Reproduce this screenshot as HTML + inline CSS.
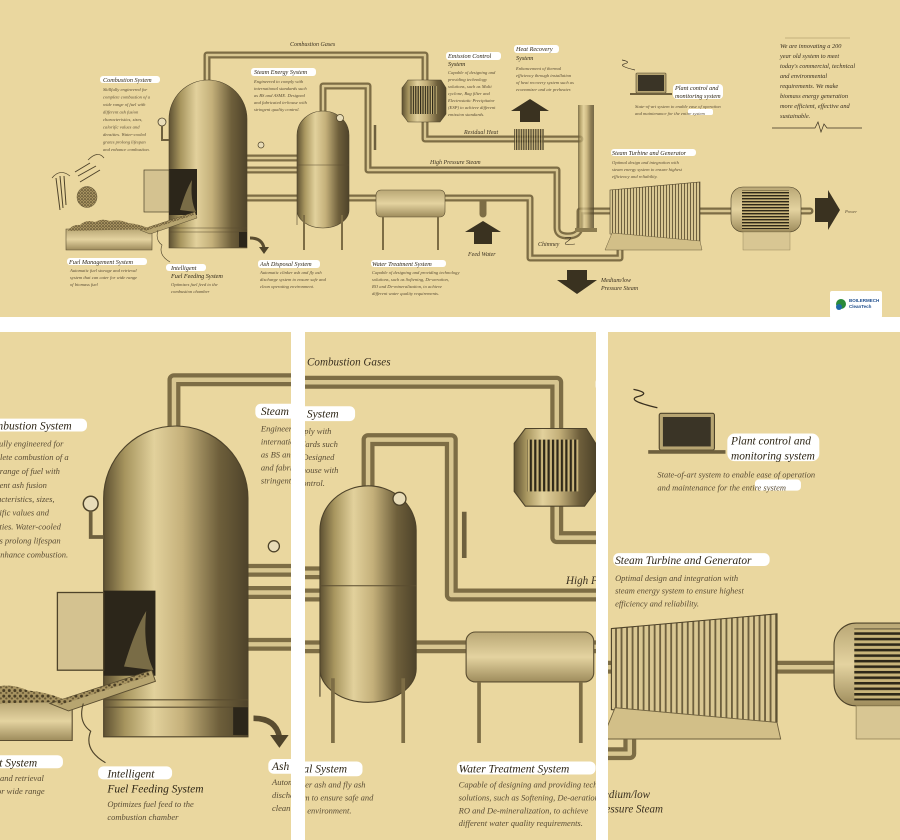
<!DOCTYPE html>
<html><head><meta charset="utf-8"><style>
html,body{margin:0;padding:0;background:#fff;}
svg{display:block;}
text{font-family:"Liberation Serif",serif;font-style:italic;fill:#3a3020;}
.b{font-size:4.6px;fill:#5a4d35;}
.t{font-size:6.2px;fill:#2e2616;}
.l{font-size:6px;fill:#3a3020;}
</style></head><body>
<svg width="900" height="840" viewBox="0 0 900 840" xmlns="http://www.w3.org/2000/svg" xmlns:xlink="http://www.w3.org/1999/xlink">
<defs>
<linearGradient id="mh" x1="0" x2="1" y1="0" y2="0">
<stop offset="0" stop-color="#5e5132"/><stop offset=".15" stop-color="#a8965f"/><stop offset=".35" stop-color="#e2d19c"/><stop offset=".55" stop-color="#c4b07a"/><stop offset=".8" stop-color="#6e5f3b"/><stop offset="1" stop-color="#4e432a"/>
</linearGradient>
<linearGradient id="tb" x1="0" x2="0" y1="0" y2="1">
<stop offset="0" stop-color="#b9a775"/><stop offset=".5" stop-color="#e4d3a0"/><stop offset="1" stop-color="#9e8c5c"/>
</linearGradient>
<pattern id="rib" width="3" height="10" patternUnits="userSpaceOnUse"><rect width="3" height="10" fill="#d9c792"/><rect width="1" height="10" fill="#6e603e"/></pattern>
<pattern id="grl" width="10" height="3" patternUnits="userSpaceOnUse"><rect width="10" height="3" fill="#c9b57a"/><rect width="10" height="1.4" fill="#2e2818"/></pattern>
<pattern id="vgr" width="2.4" height="10" patternUnits="userSpaceOnUse"><rect width="2.4" height="10" fill="#c9b57a"/><rect width="1.2" height="10" fill="#2e2818"/></pattern>
<pattern id="dots" width="3" height="3" patternUnits="userSpaceOnUse"><rect width="3" height="3" fill="#a89461"/><circle cx="1" cy="1" r=".8" fill="#4a3e24"/><circle cx="2.4" cy="2.3" r=".6" fill="#6a5a36"/></pattern>
<clipPath id="c1"><rect x="0" y="332" width="291" height="508"/></clipPath>
<clipPath id="c2"><rect x="305" y="332" width="291" height="508"/></clipPath>
<clipPath id="c3"><rect x="608" y="332" width="292" height="508"/></clipPath>
<g id="d">
<rect x="0" y="0" width="900" height="317" fill="#ead79f"/>
<g fill="none" stroke-linecap="round" stroke-linejoin="round">
<g stroke="#7d6d45" stroke-width="7">
<path d="M207 80 V55 H425 V80"/>
<path d="M425 120 V139 H580"/>
<path d="M323 112 V86 H368 V170 H557 V228 Q557 236 568 236 Q580 236 580 226 V211 H610"/>
<path d="M247 158 H297 M247 170 H297"/>
<path d="M247 198 H376 M445 198 H530 V258 H620 V240"/>
<path d="M700 211 H733 M800 211 H810"/>
<path d="M483 198 V214"/>
</g>
<g stroke="#d8c690" stroke-width="2.4">
<path d="M207 80 V55 H425 V80"/>
<path d="M425 120 V139 H580"/>
<path d="M323 112 V86 H368 V170 H557 V228 Q557 236 568 236 Q580 236 580 226 V211 H610"/>
<path d="M247 158 H297 M247 170 H297"/>
<path d="M247 198 H376 M445 198 H530 V258 H620 V240"/>
<path d="M700 211 H733 M800 211 H810"/>
</g>
</g>
<rect x="578" y="105" width="16" height="127" fill="url(#mh)" opacity=".75"/>
<rect x="575" y="228" width="22" height="4" fill="#8c7c50"/>
<path d="M169 248 V119 A39 39 0 0 1 247 119 V248 Z" fill="url(#mh)" stroke="#4e432a" stroke-width=".6"/>
<path d="M169 228 H247 M169 232 H247" stroke="#5a4d30" stroke-width=".6"/>
<rect x="169" y="169" width="28" height="46" fill="#2c261a"/>
<path d="M180 210 Q186 190 192 180 Q190 200 196 212 Z" fill="#9a8a5a" opacity=".7"/>
<rect x="144" y="170" width="25" height="42" fill="#d4c290" stroke="#4e432a" stroke-width=".7"/>
<rect x="239" y="232" width="8" height="15" fill="#2c261a"/>
<circle cx="162" cy="122" r="4" fill="#e8dcb8" stroke="#4e432a" stroke-width=".8"/>
<path d="M162 126 V140 H169" stroke="#6e603e" stroke-width="2" fill="none"/>
<path d="M250 238 Q262 238 264 248" stroke="#5a4d30" stroke-width="3" fill="none"/>
<path d="M259 247 L264 254 L269 247 Z" fill="#4e432a"/>
<path d="M66 229 L152 229 L152 250 L66 250 Z" fill="url(#tb)" stroke="#5a4d30" stroke-width=".6"/>
<path d="M68 231 Q72 224 80 225 Q86 219 95 222 Q102 218 110 221 Q120 219 128 223 Q140 224 150 229 Z" fill="url(#dots)"/>
<path d="M140 230 L195 212 L197 218 L150 234 Z" fill="#b7a570" stroke="#5a4d30" stroke-width=".5"/>
<path d="M143 229 L193 213 L194 215 L145 231 Z" fill="url(#dots)"/>
<ellipse cx="87" cy="197" rx="10" ry="10.5" fill="url(#dots)" stroke="#4a3e24" stroke-width=".4"/>
<path d="M56 178 L60 210 M60 176 L63 208 M64 176 L66 205 M75 172 L90 163 M80 182 L100 170 M78 176 L96 166" stroke="#4e432a" stroke-width="1" fill="none"/>
<path d="M52 178 Q60 168 70 176 M88 160 Q98 150 104 158" stroke="#4e432a" stroke-width=".7" fill="none"/>
<path d="M158 230 Q155 240 162 245 Q158 255 170 262" stroke="#4e432a" stroke-width=".6" fill="none"/>
<path d="M297 225 V135 A26 24 0 0 1 349 135 V210 A26 18 0 0 1 297 210 Z" fill="url(#mh)" stroke="#4e432a" stroke-width=".6"/>
<path d="M297 165 H349" stroke="#5a4d30" stroke-width=".5"/>
<path d="M304 215 V250 M342 215 V250" stroke="#7d6d45" stroke-width="2"/>
<circle cx="340" cy="118" r="3.5" fill="#e8dcb8" stroke="#4e432a" stroke-width=".7"/>
<circle cx="261" cy="145" r="3" fill="#e8dcb8" stroke="#4e432a" stroke-width=".7"/>
<path d="M375 125 V150" stroke="#6e603e" stroke-width="2.5"/>
<rect x="376" y="190" width="69" height="27" rx="5" fill="url(#tb)" stroke="#5a4d30" stroke-width=".6"/>
<path d="M383 217 V250 M438 217 V250" stroke="#7d6d45" stroke-width="2"/>
<path d="M408 80 H441 L446 88 V114 L440 122 H408 L402 114 V88 Z" fill="url(#mh)" stroke="#4e432a" stroke-width=".6"/>
<rect x="409" y="86" width="28" height="28" fill="url(#vgr)"/>
<rect x="514" y="129" width="30" height="21" fill="url(#vgr)" opacity=".8"/>
<path d="M520 122 V111 H511 L530 99 L549 111 H540 V122 Z" fill="#3a3220"/>
<path d="M474 244 V232 H465 L483 221 L501 232 H492 V244 Z" fill="#3a3220"/>
<path d="M567 270 V280 H557 L577 294 L597 280 H587 V270 Z" fill="#3a3220"/>
<path d="M815 198 H828 V190 L840 210 L828 230 V222 H815 Z" fill="#3a3220"/>
<path d="M610 190 L700 182 V242 L610 234 Z" fill="url(#rib)" stroke="#4e432a" stroke-width=".6"/>
<path d="M612 233 L700 241 L702 250 L605 250 Z" fill="#d2bf88" stroke="#6e603e" stroke-width=".5"/>
<rect x="731" y="187" width="70" height="45" rx="12" fill="url(#tb)" stroke="#4e432a" stroke-width=".6"/>
<rect x="742" y="190" width="47" height="39" fill="url(#grl)"/>
<rect x="743" y="232" width="47" height="18" fill="#d8c693" stroke="#8c7c50" stroke-width=".4"/>
<rect x="636" y="73" width="30" height="20" rx="1" fill="#b7a572" stroke="#4e432a" stroke-width=".6"/>
<rect x="638" y="75" width="26" height="16" fill="#3a3426"/>
<path d="M630 94 H672" stroke="#6e603e" stroke-width="2"/>
<path d="M635 70 Q618 66 624 64 Q632 62 622 60" stroke="#3a3020" stroke-width=".7" fill="none"/>
<path d="M772 128 H815 L818 122 L821 132 L824 124 L827 128 H862" stroke="#3a3020" stroke-width=".7" fill="none"/>
<path d="M785 38 H850" stroke="#9e8c5c" stroke-width=".6"/>
<g fill="#fff">
<rect x="100" y="76" width="60" height="7" rx="3"/>
<rect x="251" y="68" width="65" height="8" rx="3"/>
<rect x="446" y="52" width="55" height="8" rx="3"/>
<rect x="514" y="45" width="45" height="8" rx="3"/>
<rect x="673" y="84" width="50" height="15" rx="4"/>
<rect x="611" y="149" width="85" height="7" rx="3"/>
<rect x="67" y="258" width="80" height="7" rx="3"/>
<rect x="166" y="264" width="40" height="7" rx="3"/>
<rect x="258" y="260" width="62" height="8" rx="3"/>
<rect x="371" y="260" width="75" height="7" rx="3"/>
<rect x="688" y="109" width="25" height="6" rx="2"/>
</g>
<text class="l" x="290" y="46">Combustion Gases</text>
<text class="l" x="464" y="134">Residual Heat</text>
<text class="l" x="430" y="164">High Pressure Steam</text>
<text class="l" x="468" y="256">Feed Water</text>
<text class="l" x="538" y="246">Chimney</text>
<path d="M565 238 Q575 236 568 241 Q560 246 575 244" stroke="#3a3020" stroke-width=".6" fill="none"/>
<text class="l" x="601" y="282">Medium/low</text>
<text class="l" x="601" y="290">Pressure Steam</text>
<text class="b" x="845" y="213">Power</text>
<text class="t" x="103" y="82">Combustion System</text>
<text class="b"><tspan x="103" y="91">Skillfully engineered for</tspan><tspan x="103" y="98.5">complete combustion of a</tspan><tspan x="103" y="106">wide range of fuel with</tspan><tspan x="103" y="113.5">different ash fusion</tspan><tspan x="103" y="121">characteristics, sizes,</tspan><tspan x="103" y="128.5">calorific values and</tspan><tspan x="103" y="136">densities. Water-cooled</tspan><tspan x="103" y="143.5">grates prolong lifespan</tspan><tspan x="103" y="151">and enhance combustion.</tspan></text>
<text class="t" x="254" y="74">Steam Energy System</text>
<text class="b"><tspan x="254" y="83">Engineered to comply with</tspan><tspan x="254" y="90">international standards such</tspan><tspan x="254" y="97">as BS and ASME. Designed</tspan><tspan x="254" y="104">and fabricated in-house with</tspan><tspan x="254" y="111">stringent quality control.</tspan></text>
<text class="t"><tspan x="448" y="58">Emission Control</tspan><tspan x="448" y="66">System</tspan></text>
<text class="b"><tspan x="448" y="74">Capable of designing and</tspan><tspan x="448" y="81">providing technology</tspan><tspan x="448" y="88">solutions, such as Multi</tspan><tspan x="448" y="95">cyclone, Bag filter and</tspan><tspan x="448" y="102">Electrostatic Precipitator</tspan><tspan x="448" y="109">(ESP) to achieve different</tspan><tspan x="448" y="116">emission standards.</tspan></text>
<text class="t"><tspan x="516" y="51">Heat Recovery</tspan><tspan x="516" y="60">System</tspan></text>
<text class="b"><tspan x="516" y="70">Enhancement of thermal</tspan><tspan x="516" y="77">efficiency through installation</tspan><tspan x="516" y="84">of heat recovery system such as</tspan><tspan x="516" y="91">economizer and air preheater.</tspan></text>
<text class="t"><tspan x="675" y="90">Plant control and</tspan><tspan x="675" y="98">monitoring system</tspan></text>
<text class="b"><tspan x="635" y="108">State-of-art system to enable ease of operation</tspan><tspan x="635" y="115">and maintenance for the entire system</tspan></text>
<text class="t" x="612" y="155">Steam Turbine and Generator</text>
<text class="b"><tspan x="612" y="164">Optimal design and integration with</tspan><tspan x="612" y="171">steam energy system to ensure highest</tspan><tspan x="612" y="178">efficiency and reliability.</tspan></text>
<text style="font-size:6.3px;fill:#3a3020"><tspan x="780" y="48">We are innovating a 200</tspan><tspan x="780" y="58">year old system to meet</tspan><tspan x="780" y="68">today's commercial, technical</tspan><tspan x="780" y="78">and environmental</tspan><tspan x="780" y="88">requirements. We make</tspan><tspan x="780" y="98">biomass energy generation</tspan><tspan x="780" y="108">more efficient, effective and</tspan><tspan x="780" y="118">sustainable.</tspan></text>
<text class="t" x="69" y="264">Fuel Management System</text>
<text class="b"><tspan x="70" y="272">Automatic fuel storage and retrieval</tspan><tspan x="70" y="279">system that can cater for wide range</tspan><tspan x="70" y="286">of biomass fuel</tspan></text>
<text class="t"><tspan x="171" y="270">Intelligent</tspan><tspan x="171" y="278">Fuel Feeding System</tspan></text>
<text class="b"><tspan x="171" y="286">Optimizes fuel feed to the</tspan><tspan x="171" y="293">combustion chamber</tspan></text>
<text class="t" x="260" y="266">Ash Disposal System</text>
<text class="b"><tspan x="260" y="274">Automatic clinker ash and fly ash</tspan><tspan x="260" y="281">discharge system to ensure safe and</tspan><tspan x="260" y="288">clean operating environment.</tspan></text>
<text class="t" x="372" y="266">Water Treatment System</text>
<text class="b"><tspan x="372" y="274">Capable of designing and providing technology</tspan><tspan x="372" y="281">solutions, such as Softening, De-aeration,</tspan><tspan x="372" y="288">RO and De-mineralization, to achieve</tspan><tspan x="372" y="295">different water quality requirements.</tspan></text>
<rect x="830" y="291" width="52" height="27" rx="2" fill="#fff"/>
<circle cx="841" cy="304" r="5" fill="#2a8a3a"/>
<circle cx="839" cy="307" r="3" fill="#1f6aa8"/>
<text x="849" y="302" style="font-size:4.5px;font-style:normal;font-weight:bold;fill:#1f4e8c;font-family:'Liberation Sans',sans-serif">BOILERMECH</text>
<text x="849" y="308" style="font-size:4.5px;font-style:normal;font-weight:bold;fill:#1f4e8c;font-family:'Liberation Sans',sans-serif">CleanTech</text>
</g>
</defs>
<rect width="900" height="840" fill="#fff"/>
<use xlink:href="#d"/>
<rect x="0" y="317" width="900" height="15" fill="#fff"/>
<g clip-path="url(#c1)"><rect x="0" y="332" width="291" height="508" fill="#ead79f"/><use xlink:href="#d" transform="matrix(1.85,0,0,1.85,-209,278)"/></g>
<g clip-path="url(#c2)"><rect x="305" y="332" width="291" height="508" fill="#ead79f"/><use xlink:href="#d" transform="matrix(1.85,0,0,1.85,-229.5,280.5)"/></g>
<g clip-path="url(#c3)"><rect x="608" y="332" width="292" height="508" fill="#ead79f"/><use xlink:href="#d" transform="matrix(1.84,0,0,1.84,-511,279)"/></g>
</svg>
</body></html>
